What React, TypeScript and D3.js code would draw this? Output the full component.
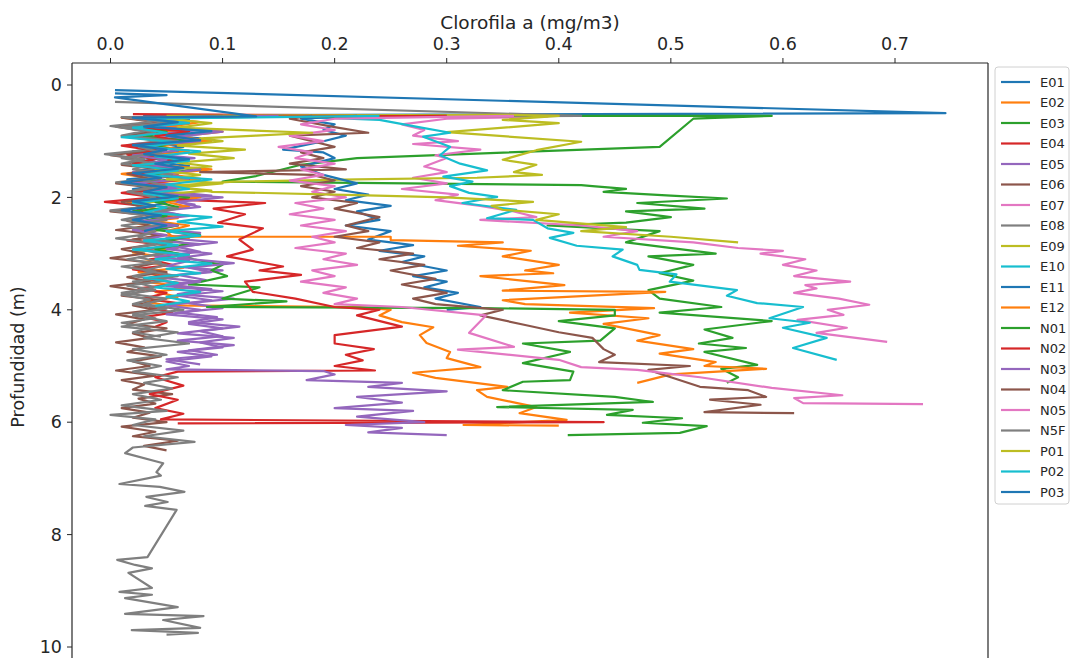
import React from "react";
import * as d3 from "d3";

// Chlorophyll-a vertical profiles per station: [depth (m), value (mg/m3)]
const E01 = [[0.09,0.004],[0.5,0.745],[0.54,0.03],[0.62,0.07],[0.7,0.02],[0.78,0.075],[0.86,0.03],[0.95,0.08],[1.02,0.04],[1.1,0.065],[1.18,0.02],[1.27,0.055],[1.35,0.03],[1.44,0.07],[1.52,0.025],[1.6,0.06],[1.68,0.015],[1.77,0.05],[1.85,0.02],[1.94,0.065],[2.02,0.03],[2.1,0.05],[2.2,0.02]];
const E02 = [[0.55,0.09],[0.58,0.01],[0.66,0.05],[0.75,0.02],[0.83,0.06],[0.92,0.015],[1.0,0.045],[1.08,0.02],[1.17,0.07],[1.25,0.035],[1.33,0.06],[1.42,0.02],[1.5,0.05],[1.58,0.01],[1.67,0.04],[1.76,0.02],[1.85,0.065],[1.93,0.03],[2.02,0.055],[2.1,0.015],[2.2,0.04],[2.28,0.025],[2.37,0.06],[2.45,0.02],[2.55,0.05],[2.63,0.03],[2.72,0.07],[2.8,0.035],[2.9,0.06],[2.98,0.02],[3.07,0.05],[3.15,0.03],[3.25,0.065],[3.33,0.025],[3.42,0.055],[3.5,0.03],[3.6,0.07],[3.68,0.04],[3.77,0.06],[3.85,0.03],[3.92,0.05],[3.95,0.223],[4.0,0.25],[4.1,0.24],[4.22,0.26],[4.31,0.288],[4.45,0.276],[4.59,0.282],[4.75,0.303],[4.86,0.3],[5.02,0.33],[5.12,0.27],[5.21,0.29],[5.37,0.354],[5.43,0.327],[5.55,0.336],[5.66,0.363],[5.73,0.38],[5.84,0.365],[5.96,0.407],[6.05,0.315],[6.06,0.4]];
const E03 = [[0.55,0.27],[0.55,0.59],[0.6,0.52],[1.1,0.49],[1.3,0.22],[1.42,0.17],[1.62,0.13],[1.72,0.1],[1.78,0.42],[1.8,0.43],[1.85,0.46],[1.9,0.44],[1.97,0.5],[2.02,0.55],[2.1,0.47],[2.2,0.53],[2.25,0.46],[2.35,0.5],[2.45,0.46],[2.5,0.39],[2.6,0.49],[2.8,0.46],[3.0,0.54],[3.05,0.48],[3.2,0.52],[3.35,0.49],[3.48,0.52],[3.65,0.48],[3.8,0.49],[3.95,0.545],[4.05,0.49],[4.2,0.59],[4.35,0.53],[4.5,0.555],[4.6,0.525],[4.68,0.567],[4.75,0.53],[4.98,0.577],[5.05,0.545],[5.2,0.56],[5.3,0.55]];
const E04 = [[0.52,0.02],[0.55,0.35],[0.57,0.03],[0.65,0.06],[0.73,0.015],[0.82,0.045],[0.9,0.02],[0.98,0.07],[1.07,0.03],[1.15,0.05],[1.24,0.015],[1.32,0.04],[1.4,0.02],[1.5,0.06],[1.58,0.025],[1.66,0.045],[1.75,0.01],[1.83,0.05],[1.92,0.02],[2.0,0.04],[2.08,-0.005],[2.16,0.035],[2.25,0.02],[2.33,0.055],[2.42,0.03],[2.5,0.06],[2.6,0.02],[2.68,0.045],[2.77,0.015],[2.85,0.05],[2.94,0.03],[3.02,0.07],[3.1,0.035],[3.2,0.055],[3.28,0.02],[3.36,0.05],[3.45,0.03],[3.53,0.065],[3.62,0.025],[3.7,0.05],[3.8,0.03],[3.88,0.06],[3.96,0.035],[4.05,0.055],[4.13,0.03],[4.22,0.05],[4.3,0.04]];
const E05 = [[0.55,0.25],[0.57,0.02],[0.64,0.06],[0.72,0.03],[0.8,0.08],[0.88,0.04],[0.97,0.07],[1.05,0.02],[1.13,0.05],[1.22,0.03],[1.3,0.075],[1.38,0.035],[1.47,0.06],[1.55,0.02],[1.63,0.05],[1.72,0.03],[1.8,0.07],[1.88,0.04],[1.97,0.09],[2.05,0.05],[2.13,0.075],[2.22,0.04],[2.3,0.06],[2.38,0.02],[2.47,0.05],[2.55,0.03],[2.63,0.08],[2.72,0.05],[2.8,0.095],[2.88,0.06],[2.97,0.08],[3.05,0.04],[3.13,0.07],[3.22,0.05],[3.3,0.1],[3.38,0.06],[3.47,0.085],[3.55,0.05],[3.63,0.09],[3.72,0.06],[3.8,0.11],[3.88,0.07],[3.97,0.1],[4.05,0.06],[4.13,0.095],[4.22,0.07],[4.3,0.115],[4.38,0.08],[4.47,0.1],[4.55,0.06],[4.63,0.11],[4.72,0.07],[4.8,0.095],[4.88,0.05],[4.97,0.08]];
const E06 = [[0.55,0.22],[0.58,0.01],[0.66,0.04],[0.74,0.005],[0.83,0.035],[0.91,0.01],[1.0,0.05],[1.08,0.02],[1.16,0.04],[1.25,0.0],[1.33,0.03],[1.42,0.01],[1.5,0.045],[1.58,0.015],[1.67,0.035],[1.75,0.005],[1.83,0.04],[1.92,0.02],[2.0,0.05],[2.08,0.01],[2.17,0.03],[2.25,0.0],[2.33,0.04],[2.42,0.015],[2.5,0.035],[2.58,0.005],[2.67,0.045],[2.75,0.02],[2.83,0.04],[2.92,0.01],[3.0,0.03],[3.08,0.0],[3.17,0.04],[3.25,0.02],[3.33,0.05],[3.42,0.015],[3.5,0.035],[3.58,0.0],[3.67,0.03],[3.75,0.01],[3.83,0.045],[3.92,0.02],[4.0,0.04],[4.08,0.005],[4.17,0.03],[4.25,0.015],[4.33,0.05],[4.42,0.02],[4.5,0.035],[4.58,0.005],[4.67,0.03],[4.75,0.015],[4.83,0.045],[4.92,0.02],[5.0,0.035],[5.08,0.005],[5.17,0.04],[5.25,0.01],[5.33,0.03],[5.42,0.02],[5.5,0.055],[5.58,0.025],[5.67,0.04],[5.75,0.01],[5.83,0.035],[5.92,0.02],[6.0,0.05],[6.08,0.01],[6.17,0.04],[6.25,0.02],[6.33,0.06],[6.42,0.03],[6.5,0.05]];
const E07 = [[0.55,0.1],[0.56,0.39],[0.6,0.3],[0.7,0.26],[0.8,0.28],[0.9,0.27],[1.0,0.31],[1.05,0.27],[1.15,0.33],[1.25,0.29],[1.3,0.3],[1.45,0.28],[1.55,0.3],[1.65,0.27],[1.75,0.3],[1.85,0.26],[1.95,0.31],[2.05,0.29],[2.15,0.33],[2.25,0.36],[2.35,0.38],[2.4,0.33],[2.5,0.42],[2.6,0.47],[2.7,0.44],[2.8,0.52],[2.9,0.56],[2.95,0.6],[3.0,0.58],[3.1,0.62],[3.2,0.6],[3.3,0.63],[3.4,0.61],[3.5,0.66],[3.56,0.62],[3.62,0.63],[3.7,0.61],[3.8,0.65],[3.91,0.677],[4.0,0.64],[4.09,0.654],[4.18,0.613],[4.32,0.657],[4.41,0.63],[4.57,0.693]];
const E08 = [[0.3,0.004],[0.55,0.42],[0.57,0.01],[0.65,0.04],[0.73,0.0],[0.82,0.03],[0.9,0.01],[0.98,0.05],[1.07,0.015],[1.15,0.035],[1.23,-0.005],[1.32,0.03],[1.4,0.01],[1.48,0.045],[1.57,0.02],[1.65,0.04],[1.73,0.005],[1.82,0.035],[1.9,0.015],[1.98,0.05],[2.07,0.02],[2.15,0.04],[2.23,0.0],[2.32,0.03],[2.4,0.01],[2.48,0.045],[2.57,0.02],[2.65,0.035],[2.73,0.005],[2.82,0.04],[2.9,0.02],[2.98,0.055],[3.07,0.025],[3.15,0.045],[3.23,0.01],[3.32,0.04],[3.4,0.02],[3.48,0.05],[3.57,0.015],[3.65,0.04],[3.73,0.01],[3.82,0.035],[3.9,0.02],[3.98,0.05],[4.07,0.02],[4.15,0.04],[4.23,0.01],[4.32,0.035],[4.4,0.02],[4.48,0.045]];
const E09 = [[0.55,0.05],[0.53,0.35],[0.55,0.4],[0.62,0.35],[0.68,0.4],[0.84,0.3],[1.01,0.42],[1.16,0.38],[1.33,0.35],[1.42,0.38],[1.55,0.36],[1.6,0.385],[1.65,0.327],[1.68,0.22],[1.72,0.11],[1.8,0.05],[1.88,0.09],[1.95,0.04],[2.02,0.07],[2.1,0.03]];
const E10 = [[0.55,0.15],[0.62,0.24],[0.75,0.275],[0.85,0.303],[0.92,0.279],[1.1,0.303],[1.25,0.294],[1.4,0.312],[1.52,0.336],[1.63,0.297],[1.72,0.323],[1.8,0.303],[1.92,0.32],[1.99,0.345],[2.1,0.314],[2.22,0.362],[2.37,0.336],[2.4,0.377],[2.55,0.39],[2.63,0.413],[2.72,0.392],[2.86,0.416],[2.93,0.457],[3.05,0.448],[3.2,0.47],[3.29,0.472],[3.37,0.505],[3.5,0.499],[3.65,0.559],[3.75,0.55],[3.88,0.577],[3.95,0.618],[4.15,0.588],[4.23,0.624],[4.32,0.6],[4.5,0.639],[4.68,0.609],[4.89,0.648]];
const E11 = [[0.55,0.22],[0.6,0.17],[0.7,0.2],[0.8,0.19],[0.9,0.21],[1.0,0.19],[1.15,0.154],[1.2,0.19],[1.3,0.2],[1.45,0.17],[1.6,0.19],[1.75,0.22],[1.85,0.2],[1.95,0.23],[2.05,0.21],[2.15,0.25],[2.25,0.22],[2.4,0.24],[2.5,0.21],[2.6,0.25],[2.75,0.23],[2.85,0.27],[2.95,0.24],[3.05,0.28],[3.15,0.26],[3.3,0.3],[3.4,0.27],[3.5,0.3],[3.6,0.28],[3.7,0.31],[3.8,0.29],[3.95,0.33],[4.0,0.3]];
const E12 = [[0.55,0.2],[0.58,0.04],[0.66,0.08],[0.75,0.05],[0.83,0.1],[0.92,0.06],[1.0,0.09],[1.08,0.04],[1.17,0.07],[1.25,0.03],[1.33,0.06],[1.42,0.04],[1.5,0.09],[1.58,0.05],[1.67,0.08],[1.75,0.03],[1.83,0.06],[1.92,0.04],[2.0,0.08],[2.08,0.05],[2.17,0.07],[2.25,0.03],[2.33,0.06],[2.42,0.04],[2.5,0.07],[2.6,0.05],[2.7,0.055],[2.7,0.25],[2.76,0.25],[2.8,0.35],[2.86,0.31],[2.95,0.375],[3.05,0.35],[3.2,0.4],[3.3,0.37],[3.35,0.395],[3.4,0.33],[3.56,0.405],[3.66,0.35],[3.68,0.495],[3.83,0.35],[3.9,0.37],[3.97,0.485],[4.05,0.41],[4.15,0.48],[4.25,0.44],[4.45,0.49],[4.55,0.47],[4.7,0.52],[4.78,0.49],[4.93,0.54],[5.0,0.53],[5.05,0.585],[5.15,0.5],[5.3,0.47]];
const N01 = [[0.55,0.3],[0.58,0.03],[0.66,0.06],[0.75,0.02],[0.83,0.05],[0.92,0.03],[1.0,0.07],[1.08,0.04],[1.17,0.06],[1.25,0.02],[1.33,0.05],[1.42,0.03],[1.5,0.08],[1.58,0.04],[1.67,0.06],[1.75,0.02],[1.83,0.05],[1.92,0.03],[2.0,0.07],[2.08,0.04],[2.17,0.06],[2.25,0.02],[2.33,0.05],[2.42,0.03],[2.5,0.06],[2.58,0.04],[2.67,0.08],[2.75,0.05],[2.83,0.07],[2.92,0.04],[3.0,0.06],[3.1,0.074],[3.2,0.1],[3.3,0.09],[3.4,0.104],[3.55,0.07],[3.6,0.133],[3.8,0.1],[3.85,0.157],[3.95,0.086],[3.97,0.33],[4.0,0.45],[4.1,0.45],[4.2,0.4],[4.33,0.45],[4.55,0.437],[4.6,0.368],[4.75,0.41],[4.95,0.368],[5.1,0.413],[5.25,0.41],[5.28,0.368],[5.43,0.35],[5.55,0.45],[5.64,0.484],[5.73,0.345],[5.78,0.466],[5.87,0.443],[5.93,0.51],[6.01,0.475],[6.07,0.532],[6.19,0.508],[6.23,0.408]];
const N02 = [[0.55,0.3],[0.58,0.02],[0.66,0.05],[0.74,0.02],[0.83,0.07],[0.91,0.04],[1.0,0.06],[1.08,0.01],[1.17,0.04],[1.25,0.02],[1.33,0.06],[1.42,0.03],[1.5,0.05],[1.58,0.02],[1.67,0.07],[1.75,0.03],[1.83,0.05],[1.92,0.01],[2.0,0.04],[2.05,0.07],[2.1,0.138],[2.2,0.092],[2.3,0.12],[2.45,0.096],[2.55,0.136],[2.75,0.115],[2.93,0.127],[3.05,0.104],[3.23,0.154],[3.3,0.133],[3.38,0.17],[3.5,0.12],[3.68,0.127],[3.8,0.165],[3.95,0.2],[4.0,0.24],[4.1,0.22],[4.3,0.26],[4.45,0.2],[4.6,0.2],[4.7,0.235],[4.8,0.21],[4.9,0.225],[5.0,0.2],[5.08,0.236],[5.1,0.06],[5.2,0.04],[5.35,0.065],[5.5,0.035],[5.6,0.06],[5.75,0.04],[5.85,0.065],[5.95,0.045],[6.0,0.44],[6.02,0.06]];
const N03 = [[0.55,0.15],[0.58,0.03],[0.66,0.07],[0.75,0.04],[0.83,0.1],[0.92,0.06],[1.0,0.08],[1.08,0.03],[1.17,0.06],[1.25,0.02],[1.33,0.05],[1.42,0.03],[1.5,0.08],[1.58,0.05],[1.67,0.07],[1.75,0.02],[1.83,0.06],[1.92,0.03],[2.0,0.1],[2.08,0.06],[2.17,0.08],[2.25,0.04],[2.33,0.07],[2.42,0.03],[2.5,0.06],[2.58,0.02],[2.67,0.05],[2.75,0.03],[2.83,0.08],[2.92,0.05],[3.0,0.09],[3.08,0.06],[3.17,0.11],[3.25,0.07],[3.33,0.09],[3.42,0.04],[3.5,0.08],[3.58,0.05],[3.67,0.1],[3.75,0.06],[3.83,0.09],[3.92,0.05],[4.0,0.08],[4.08,0.05],[4.17,0.1],[4.25,0.07],[4.33,0.1],[4.42,0.06],[4.5,0.11],[4.58,0.08],[4.67,0.1],[4.75,0.06],[4.83,0.09],[4.92,0.05],[5.0,0.07],[5.06,0.05],[5.09,0.19],[5.15,0.2],[5.25,0.175],[5.3,0.26],[5.37,0.23],[5.45,0.3],[5.55,0.22],[5.65,0.26],[5.75,0.2],[5.8,0.27],[5.9,0.22],[6.0,0.28],[6.05,0.21],[6.1,0.26],[6.18,0.23],[6.23,0.3]];
const N04 = [[0.55,0.18],[0.6,0.16],[0.75,0.2],[0.85,0.23],[0.9,0.16],[1.0,0.18],[1.1,0.2],[1.2,0.17],[1.3,0.19],[1.4,0.16],[1.5,0.21],[1.55,0.08],[1.6,0.18],[1.7,0.2],[1.8,0.17],[1.9,0.2],[2.0,0.18],[2.1,0.22],[2.2,0.2],[2.35,0.24],[2.5,0.21],[2.6,0.23],[2.7,0.2],[2.8,0.24],[2.9,0.22],[3.0,0.27],[3.1,0.24],[3.2,0.28],[3.3,0.25],[3.45,0.29],[3.55,0.26],[3.7,0.3],[3.8,0.27],[3.9,0.29],[4.0,0.35],[4.1,0.33],[4.27,0.37],[4.4,0.4],[4.5,0.43],[4.7,0.44],[4.8,0.45],[4.93,0.436],[5.0,0.517],[5.07,0.48],[5.2,0.5],[5.37,0.526],[5.43,0.569],[5.55,0.585],[5.6,0.535],[5.69,0.58],[5.82,0.53],[5.84,0.61]];
const N05 = [[0.55,0.36],[0.6,0.2],[0.7,0.17],[0.8,0.2],[0.9,0.16],[1.0,0.19],[1.1,0.15],[1.2,0.18],[1.3,0.165],[1.4,0.2],[1.5,0.17],[1.6,0.19],[1.7,0.16],[1.8,0.2],[1.9,0.18],[2.0,0.21],[2.1,0.165],[2.2,0.19],[2.3,0.16],[2.4,0.2],[2.5,0.17],[2.6,0.21],[2.7,0.18],[2.8,0.2],[2.9,0.165],[3.0,0.21],[3.1,0.19],[3.2,0.22],[3.3,0.18],[3.4,0.2],[3.5,0.17],[3.6,0.21],[3.7,0.19],[3.8,0.22],[3.9,0.2],[3.95,0.26],[4.1,0.335],[4.41,0.32],[4.66,0.36],[4.71,0.31],[4.89,0.4],[5.02,0.42],[5.07,0.47],[5.2,0.526],[5.39,0.59],[5.52,0.653],[5.57,0.61],[5.66,0.618],[5.68,0.725]];
const N5F = [[0.55,0.1],[0.58,0.02],[0.67,0.05],[0.75,0.01],[0.84,0.04],[0.92,0.02],[1.0,0.06],[1.1,0.025],[1.2,0.045],[1.3,0.01],[1.4,0.04],[1.5,0.02],[1.6,0.055],[1.7,0.03],[1.8,0.05],[1.9,0.015],[2.0,0.04],[2.1,0.02],[2.2,0.06],[2.3,0.03],[2.4,0.05],[2.5,0.01],[2.6,0.04],[2.7,0.025],[2.8,0.055],[2.9,0.02],[3.0,0.045],[3.1,0.015],[3.2,0.05],[3.3,0.03],[3.4,0.06],[3.5,0.02],[3.6,0.04],[3.7,0.01],[3.8,0.05],[3.9,0.03],[4.0,0.065],[4.1,0.02],[4.2,0.05],[4.3,0.01],[4.4,0.06],[4.5,0.03],[4.6,0.07],[4.7,0.02],[4.8,0.05],[4.9,0.015],[5.0,0.045],[5.1,0.02],[5.2,0.06],[5.3,0.03],[5.4,0.055],[5.5,0.02],[5.6,0.045],[5.7,0.01],[5.8,0.05],[5.87,0.0],[5.95,0.04],[6.05,0.02],[6.15,0.065],[6.25,0.03],[6.35,0.075],[6.45,0.02],[6.55,0.013],[6.73,0.047],[6.89,0.041],[6.95,0.045],[7.1,0.008],[7.15,0.044],[7.24,0.066],[7.33,0.032],[7.42,0.051],[7.49,0.031],[7.56,0.059],[8.4,0.033],[8.45,0.006],[8.54,0.022],[8.6,0.037],[8.68,0.016],[8.95,0.037],[9.02,0.008],[9.07,0.037],[9.13,0.013],[9.29,0.06],[9.41,0.013],[9.45,0.083],[9.52,0.047],[9.66,0.08],[9.7,0.019],[9.75,0.078],[9.78,0.05]];
const P01 = [[0.55,0.12],[0.6,0.05],[0.68,0.09],[0.76,0.06],[0.85,0.18],[0.9,0.13],[0.95,0.08],[1.0,0.1],[1.08,0.06],[1.15,0.12],[1.22,0.07],[1.3,0.11],[1.38,0.06],[1.45,0.09],[1.52,0.04],[1.6,0.08],[1.68,0.05],[1.75,0.1],[1.82,0.06],[1.9,0.09],[1.96,0.22],[2.0,0.3],[2.08,0.377],[2.15,0.34],[2.22,0.35],[2.3,0.4],[2.4,0.38],[2.53,0.46],[2.6,0.42],[2.7,0.5],[2.8,0.56]];
const P02 = [[0.55,0.24],[0.6,0.03],[0.68,0.07],[0.76,0.02],[0.85,0.05],[0.93,0.01],[1.02,0.06],[1.1,0.03],[1.18,0.08],[1.27,0.04],[1.35,0.07],[1.43,0.02],[1.52,0.06],[1.6,0.03],[1.68,0.09],[1.77,0.05],[1.85,0.07],[1.93,0.03],[2.02,0.06],[2.1,0.02],[2.18,0.05],[2.27,0.03],[2.35,0.09],[2.43,0.06],[2.52,0.1],[2.6,0.05],[2.68,0.08],[2.77,0.03],[2.85,0.06],[2.93,0.02],[3.02,0.07],[3.1,0.04],[3.18,0.09],[3.27,0.05],[3.35,0.08],[3.43,0.03],[3.52,0.06],[3.6,0.04],[3.68,0.08],[3.77,0.05],[3.85,0.07],[3.93,0.04]];
const P03 = [[0.15,0.004],[0.18,0.05],[0.22,0.004],[0.56,0.13],[0.58,0.02],[0.66,0.06],[0.74,0.03],[0.82,0.09],[0.9,0.05],[0.98,0.08],[1.07,0.02],[1.15,0.05],[1.23,0.03],[1.32,0.07],[1.4,0.04],[1.48,0.065],[1.57,0.02],[1.65,0.045],[1.73,0.01],[1.82,0.05],[1.9,0.03],[1.98,0.06],[2.07,0.02],[2.15,0.04],[2.23,0.01],[2.32,0.045],[2.4,0.02],[2.5,0.05],[2.6,0.03]];

const stations = ["E01","E02","E03","E04","E05","E06","E07","E08","E09","E10","E11","E12","N01","N02","N03","N04","N05","N5F","P01","P02","P03"];
const profiles = [E01,E02,E03,E04,E05,E06,E07,E08,E09,E10,E11,E12,N01,N02,N03,N04,N05,N5F,P01,P02,P03];
const palette = ["#1f77b4","#ff7f0e","#2ca02c","#d62728","#9467bd","#8c564b","#e377c2","#7f7f7f","#bcbd22","#17becf"];

const xTicks = [0, 0.1, 0.2, 0.3, 0.4, 0.5, 0.6, 0.7];
const yTicks = [0, 2, 4, 6, 8, 10];

export default function App() {
  const W = 1070, H = 658;
  const left = 72, right = 988, top = 63, bottom = 663;
  const x = d3.scaleLinear().domain([0, 0.7]).range([110.5, 895]);
  const y = d3.scaleLinear().domain([0, 10]).range([85, 647]);
  const line = d3.line<number[]>().x(p => x(p[1])).y(p => y(p[0]));
  const font = "DejaVu Sans, sans-serif";
  const ink = "#262626";

  const legX = 995, legY = 67, legStep = 20.5;

  return (
    <svg width={W} height={H} style={{ position: "absolute", left: 0, top: 0, background: "#fff" }} fontFamily={font}>
      <defs>
        <clipPath id="plotClip">
          <rect x={left} y={top} width={right - left} height={bottom - top} />
        </clipPath>
      </defs>
      <rect x={0} y={0} width={W} height={H} fill="#fff" />
      <g clipPath="url(#plotClip)">
        {profiles.map((p, i) => (
          <path key={stations[i]} d={line(p) || ""} fill="none" stroke={palette[i % 10]} strokeWidth={2.2} strokeLinejoin="round" />
        ))}
      </g>
      {/* frame */}
      <line x1={left} x2={right} y1={top} y2={top} stroke={ink} strokeWidth={1.2} />
      <line x1={left} x2={left} y1={top} y2={bottom} stroke={ink} strokeWidth={1.2} />
      <line x1={right} x2={right} y1={top} y2={bottom} stroke={ink} strokeWidth={1.2} />
      {/* top x axis */}
      {xTicks.map(t => (
        <g key={t}>
          <line x1={x(t)} x2={x(t)} y1={top} y2={top - 5} stroke={ink} />
          <text x={x(t)} y={top - 13} textAnchor="middle" fontSize={17.5} fill={ink}>{t.toFixed(1)}</text>
        </g>
      ))}
      <text x={(left + right) / 2} y={29} textAnchor="middle" fontSize={18.5} fill={ink}>Clorofila a (mg/m3)</text>
      {/* y axis */}
      {yTicks.map(t => (
        <g key={t}>
          <line x1={left} x2={left - 5} y1={y(t)} y2={y(t)} stroke={ink} />
          <text x={left - 10} y={y(t)} dy="0.35em" textAnchor="end" fontSize={17.5} fill={ink}>{t}</text>
        </g>
      ))}
      <text transform={`translate(24,${(top + bottom) / 2 - 6}) rotate(-90)`} textAnchor="middle" fontSize={17.5} fill={ink}>Profundidad (m)</text>
      {/* legend */}
      <rect x={legX} y={legY} width={74} height={437} rx={3} fill="#fff" stroke="#d0d0d0" />
      {stations.map((s, i) => {
        const cy = legY + 15 + i * legStep;
        return (
          <g key={s}>
            <line x1={legX + 6} x2={legX + 35} y1={cy} y2={cy} stroke={palette[i % 10]} strokeWidth={2.2} />
            <text x={legX + 45} y={cy} dy="0.36em" fontSize={13} fill={ink}>{s}</text>
          </g>
        );
      })}
    </svg>
  );
}
